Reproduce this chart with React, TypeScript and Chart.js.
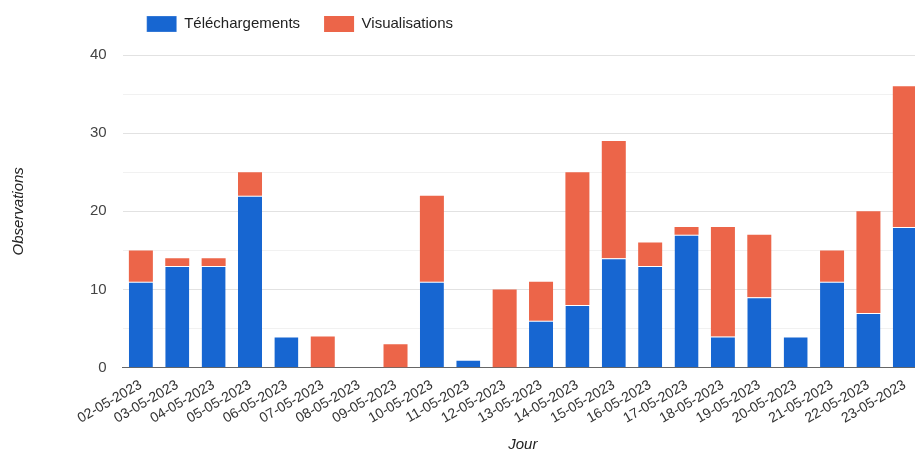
import React, { useEffect, useRef } from "react";
import { Chart, registerables } from "chart.js";

Chart.register(...registerables);

const days = [
  "02-05-2023", "03-05-2023", "04-05-2023", "05-05-2023", "06-05-2023", "07-05-2023",
  "08-05-2023", "09-05-2023", "10-05-2023", "11-05-2023", "12-05-2023", "13-05-2023",
  "14-05-2023", "15-05-2023", "16-05-2023", "17-05-2023", "18-05-2023", "19-05-2023",
  "20-05-2023", "21-05-2023", "22-05-2023", "23-05-2023",
];
const telechargements = [11, 13, 13, 22, 4, 0, 0, 0, 11, 1, 0, 6, 8, 14, 13, 17, 4, 9, 4, 11, 7, 18];
const visualisations = [4, 1, 1, 3, 0, 4, 0, 3, 11, 0, 10, 5, 17, 15, 3, 1, 14, 8, 0, 4, 13, 18];
const yTicks = [0, 10, 20, 30, 40];

const FONT = "'Liberation Sans', Arial, sans-serif";

const legendSpacer = {
  id: "legendSpacer",
  beforeInit(chart: any) {
    const legend = chart.legend;
    if (!legend) return;
    const orig = legend.fit;
    legend.fit = function () {
      orig.call(this);
      this.height += 13;
    };
  },
};

export default function App() {
  const ref = useRef<HTMLCanvasElement>(null);
  useEffect(() => {
    if (!ref.current) return;
    const chart = new Chart(ref.current, {
      type: "bar",
      data: {
        labels: days,
        datasets: [
          {
            label: "Téléchargements",
            data: telechargements,
            backgroundColor: "#1766d1",
            borderColor: "#ffffff",
            borderWidth: { top: 1, left: 0, right: 0, bottom: 0 },
            borderSkipped: false,
            barPercentage: 0.66,
            categoryPercentage: 1,
          },
          {
            label: "Visualisations",
            data: visualisations,
            backgroundColor: "#ec6549",
            borderWidth: 0,
            barPercentage: 0.66,
            categoryPercentage: 1,
          },
        ],
      },
      plugins: [legendSpacer],
      options: {
        animation: false,
        responsive: true,
        maintainAspectRatio: false,
        layout: { padding: { top: -8, left: 10, right: 2, bottom: -3 } },
        plugins: {
          tooltip: { enabled: false },
          legend: {
            position: "top",
            align: "start",
            fullSize: false,
            labels: {
              boxWidth: 30,
              boxHeight: 16,
              padding: 24,
              color: "#222",
              font: { family: FONT, size: 15 },
            },
          },
        },
        scales: {
          x: {
            stacked: true,
            grid: { display: false, drawTicks: false },
            border: { display: true, color: "#666", width: 1 },
            ticks: {
              color: "#333",
              font: { family: FONT, size: 14 },
              maxRotation: 30,
              minRotation: 30,
              padding: 9,
              autoSkip: false,
            },
            title: {
              display: true,
              text: "Jour",
              color: "#222",
              font: { family: FONT, size: 15, style: "italic" },
              padding: { top: 0, bottom: 0 },
            },
          },
          y: {
            stacked: true,
            min: 0,
            max: 40,
            grid: {
              drawTicks: false,
              color: (ctx: any) =>
                ctx.tick && yTicks.includes(ctx.tick.value) ? "#e2e2e2" : "#f1f1f1",
            },
            border: { display: false },
            ticks: {
              stepSize: 5,
              padding: 16,
              color: "#444",
              font: { family: FONT, size: 15 },
              callback: (v: any) => (yTicks.includes(Number(v)) ? String(v) : ""),
            },
            title: {
              display: true,
              text: "Observations",
              color: "#222",
              font: { family: FONT, size: 15, style: "italic" },
              padding: { top: 0, bottom: 46 },
            },
          },
        },
      },
    });
    return () => chart.destroy();
  }, []);
  return (
    <div style={{ position: "fixed", left: 0, top: 0, width: 915, height: 451, overflow: "hidden", background: "#fff" }}>
      <div style={{ position: "relative", width: 925, height: 451 }}>
        <canvas ref={ref} />
      </div>
    </div>
  );
}
